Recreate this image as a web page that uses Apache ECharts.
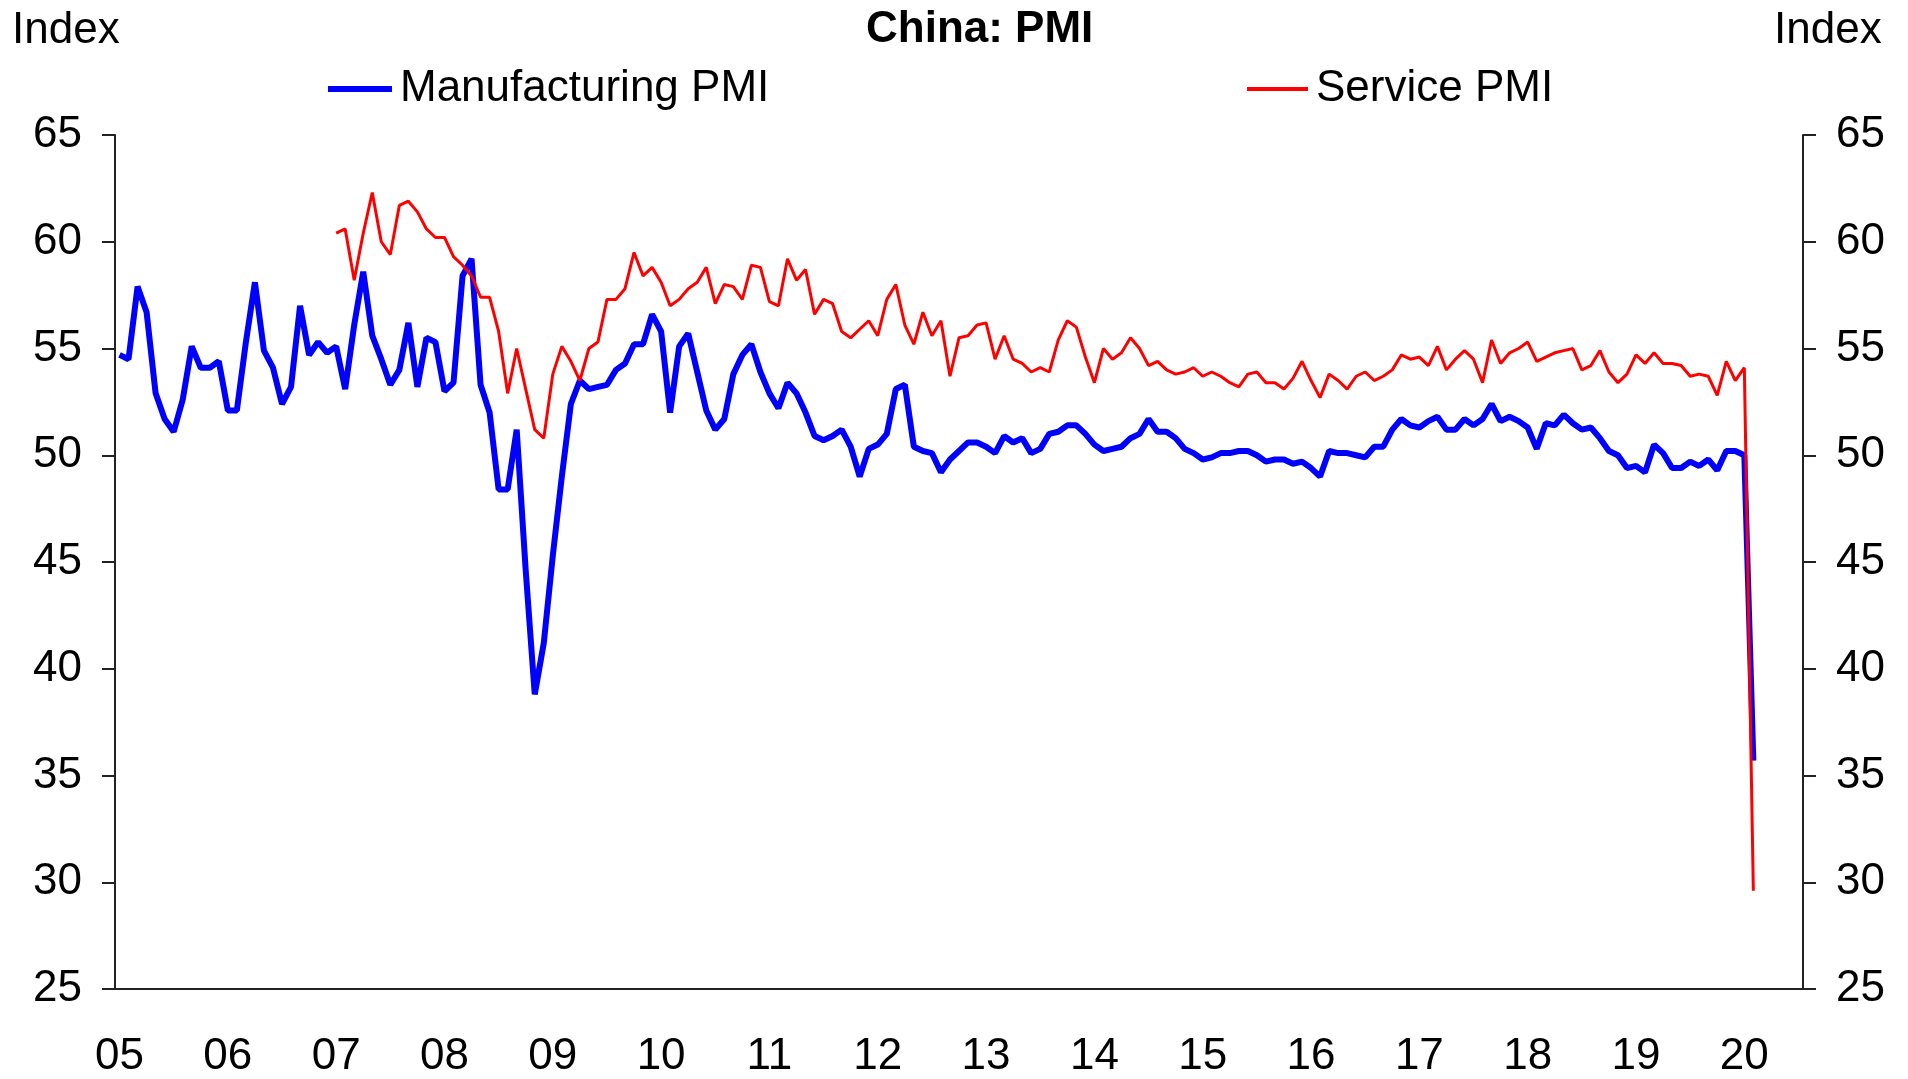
<!DOCTYPE html>
<html>
<head>
<meta charset="utf-8">
<title>China: PMI</title>
<script src="https://cdn.jsdelivr.net/npm/echarts@6/dist/echarts.min.js"></script>
<style>
    html, body { margin: 0; padding: 0; background: #fff; }
    #chart { width: 1908px; height: 1079px; }
</style>
</head>
<body>
<div id="chart"></div>
<script>
'use strict';

// tick labels on the x axis, one per January
const yearLabels = ['05', '06', '07', '08', '09', '10', '11', '12', '13', '14', '15', '16', '17', '18', '19', '20'];

// Manufacturing PMI, monthly, Jan 2005 - Feb 2020
const manufacturing = [
    54.7, 54.5, 57.9, 56.7, 52.9, 51.7, 51.1, 52.6, 55.1, 54.1, 54.1, 54.4,
    52.1, 52.1, 55.3, 58.1, 54.9, 54.1, 52.4, 53.2, 57.0, 54.7, 55.3, 54.8,
    55.1, 53.1, 56.1, 58.6, 55.6, 54.5, 53.3, 54.0, 56.2, 53.2, 55.5, 55.3,
    53.0, 53.4, 58.4, 59.2, 53.3, 52.0, 48.4, 48.4, 51.2, 44.6, 38.8, 41.2,
    45.3, 49.0, 52.4, 53.5, 53.1, 53.2, 53.3, 54.0, 54.3, 55.2, 55.2, 56.6,
    55.8, 52.0, 55.1, 55.7, 53.9, 52.1, 51.2, 51.7, 53.8, 54.7, 55.2, 53.9,
    52.9, 52.2, 53.4, 52.9, 52.0, 50.9, 50.7, 50.9, 51.2, 50.4, 49.0, 50.3,
    50.5, 51.0, 53.1, 53.3, 50.4, 50.2, 50.1, 49.2, 49.8, 50.2, 50.6, 50.6,
    50.4, 50.1, 50.9, 50.6, 50.8, 50.1, 50.3, 51.0, 51.1, 51.4, 51.4, 51.0,
    50.5, 50.2, 50.3, 50.4, 50.8, 51.0, 51.7, 51.1, 51.1, 50.8, 50.3, 50.1,
    49.8, 49.9, 50.1, 50.1, 50.2, 50.2, 50.0, 49.7, 49.8, 49.8, 49.6, 49.7,
    49.4, 49.0, 50.2, 50.1, 50.1, 50.0, 49.9, 50.4, 50.4, 51.2, 51.7, 51.4,
    51.3, 51.6, 51.8, 51.2, 51.2, 51.7, 51.4, 51.7, 52.4, 51.6, 51.8, 51.6,
    51.3, 50.3, 51.5, 51.4, 51.9, 51.5, 51.2, 51.3, 50.8, 50.2, 50.0, 49.4,
    49.5, 49.2, 50.5, 50.1, 49.4, 49.4, 49.7, 49.5, 49.8, 49.3, 50.2, 50.2,
    50.0, 35.7
];

// Service PMI, monthly, Jan 2007 - Feb 2020
const service = [
    60.4, 60.6, 58.2, 60.4, 62.3, 60.0, 59.4, 61.7, 61.9, 61.4, 60.6, 60.2,
    60.2, 59.3, 58.9, 58.4, 57.4, 57.4, 55.8, 52.9, 55.0, 53.1, 51.2, 50.8,
    53.8, 55.1, 54.4, 53.5, 55.0, 55.3, 57.3, 57.3, 57.8, 59.5, 58.4, 58.8,
    58.1, 57.0, 57.3, 57.8, 58.1, 58.8, 57.1, 58.0, 57.9, 57.3, 58.9, 58.8,
    57.2, 57.0, 59.2, 58.2, 58.7, 56.6, 57.3, 57.1, 55.8, 55.5, 55.9, 56.3,
    55.6, 57.3, 58.0, 56.1, 55.2, 56.7, 55.6, 56.3, 53.7, 55.5, 55.6, 56.1,
    56.2, 54.5, 55.6, 54.5, 54.3, 53.9, 54.1, 53.9, 55.4, 56.3, 56.0, 54.6,
    53.4, 55.0, 54.5, 54.8, 55.5, 55.0, 54.2, 54.4, 54.0, 53.8, 53.9, 54.1,
    53.7, 53.9, 53.7, 53.4, 53.2, 53.8, 53.9, 53.4, 53.4, 53.1, 53.6, 54.4,
    53.5, 52.7, 53.8, 53.5, 53.1, 53.7, 53.9, 53.5, 53.7, 54.0, 54.7, 54.5,
    54.6, 54.2, 55.1, 54.0, 54.5, 54.9, 54.5, 53.4, 55.4, 54.3, 54.8, 55.0,
    55.3, 54.4, 54.6, 54.8, 54.9, 55.0, 54.0, 54.2, 54.9, 53.9, 53.4, 53.8,
    54.7, 54.3, 54.8, 54.3, 54.3, 54.2, 53.7, 53.8, 53.7, 52.8, 54.4, 53.5,
    54.1, 29.6
];

// axis runs Jan 2005 - Jul 2020, one category per month
const months = [];
for (let y = 2005; y <= 2020; y++) {
    for (let m = 1; m <= 12; m++) {
        months.push(y + '-' + (m < 10 ? '0' + m : m));
    }
}
months.length = 187;

const serviceFull = new Array(24).fill(null).concat(service);

const FONT = 'Liberation Sans, Arial, sans-serif';
const AXIS_COLOR = '#222';

function isJan(index) {
    return index % 12 === 0;
}

function valueAxis(pos) {
    return {
        type: 'value',
        position: pos,
        min: 25,
        max: 65,
        interval: 5,
        axisLine: {show: true, lineStyle: {color: AXIS_COLOR, width: 2}},
        axisTick: {show: true, inside: false, length: 13, lineStyle: {color: AXIS_COLOR, width: 2}},
        axisLabel: {margin: 33, color: '#000', fontSize: 44, fontFamily: FONT, padding: [5, 0, 0, 0]},
        splitLine: {show: false}
    };
}

let myChart = echarts.init(document.getElementById('chart'), null, {renderer: 'canvas'});

let option = {
    backgroundColor: '#fff',
    animation: false,
    textStyle: {fontFamily: FONT},
    title: [
        {
            text: 'China: PMI',
            left: 866, top: 8, padding: 0,
            textStyle: {fontSize: 44, fontWeight: 'bold', color: '#000', fontFamily: FONT}
        },
        {
            text: 'Index',
            left: 12, top: 9, padding: 0,
            textStyle: {fontSize: 44, fontWeight: 'normal', color: '#000', fontFamily: FONT}
        },
        {
            text: 'Index',
            left: 1774, top: 9, padding: 0,
            textStyle: {fontSize: 44, fontWeight: 'normal', color: '#000', fontFamily: FONT}
        }
    ],
    legend: [
        {
            data: ['Manufacturing PMI'],
            left: 328, top: 67, padding: 0,
            icon: 'rect', itemWidth: 64, itemHeight: 6,
            textStyle: {fontSize: 44, color: '#000', fontFamily: FONT, padding: [0, 0, 0, 3]}
        },
        {
            data: ['Service PMI'],
            left: 1247, top: 67, padding: 0,
            icon: 'rect', itemWidth: 61, itemHeight: 4,
            textStyle: {fontSize: 44, color: '#000', fontFamily: FONT, padding: [0, 0, 0, 3]}
        }
    ],
    grid: {left: 115, right: 105, top: 135, bottom: 87},
    xAxis: {
        type: 'category',
        data: months,
        boundaryGap: true,
        axisLine: {lineStyle: {color: AXIS_COLOR, width: 2}},
        axisTick: {interval: isJan, length: 13, lineStyle: {color: AXIS_COLOR, width: 2}},
        axisLabel: {
            interval: isJan,
            margin: 46,
            color: '#000',
            fontSize: 44,
            fontFamily: FONT,
            formatter: function (value, index) {
                return yearLabels[index / 12];
            }
        },
        splitLine: {show: false}
    },
    yAxis: [valueAxis('left'), valueAxis('right')],
    series: [
        {
            name: 'Manufacturing PMI',
            type: 'line',
            data: manufacturing,
            yAxisIndex: 0,
            symbol: 'none',
            color: '#0000ff',
            lineStyle: {color: '#0000ff', width: 6}
        },
        {
            name: 'Service PMI',
            type: 'line',
            data: serviceFull,
            yAxisIndex: 0,
            symbol: 'none',
            color: '#ff0000',
            lineStyle: {color: '#ff0000', width: 3}
        }
    ]
};

myChart.setOption(option);
</script>
</body>
</html>
